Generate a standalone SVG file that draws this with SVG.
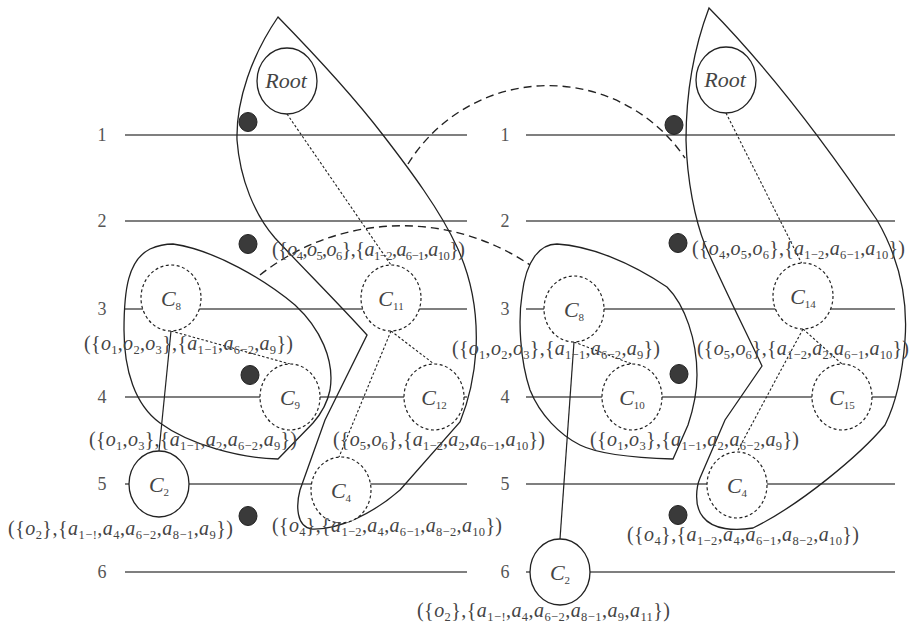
<svg xmlns="http://www.w3.org/2000/svg" width="910" height="628" viewBox="0 0 910 628">
<style>
.bg{fill:#fff}
.lv{stroke:#555;stroke-width:1.5;fill:none}
.num{font-family:"Liberation Serif",serif;font-size:18px;fill:#555;text-anchor:middle}
.hull{fill:none;stroke:#222;stroke-width:1.3}
.arc{fill:none;stroke:#222;stroke-width:1.4;stroke-dasharray:8 5}
.dot{fill:none;stroke:#222;stroke-width:1.1;stroke-dasharray:2.5 2}
.sol{fill:none;stroke:#222;stroke-width:1.2}
.nd{fill:#fff;stroke:#222;stroke-width:1.3}
.nds{fill:#fff;stroke:#222;stroke-width:1.2;stroke-dasharray:3 2.5}
.blk{fill:#3a3a3a;stroke:#222;stroke-width:1}
.n{font-family:"Liberation Serif",serif;font-size:22px;font-style:italic;fill:#444;text-anchor:middle}
.ns{font-size:11px;font-style:normal}
.t{font-family:"Liberation Serif",serif;font-size:20px;fill:#444}
.i{font-style:italic}
.s{font-size:12.5px}
</style>
<rect class="bg" x="0" y="0" width="910" height="628"/>
<g id="levels">
<line class="lv" x1="125" y1="135" x2="467" y2="135"/>
<line class="lv" x1="125" y1="221" x2="467" y2="221"/>
<line class="lv" x1="125" y1="309" x2="467" y2="309"/>
<line class="lv" x1="125" y1="397" x2="467" y2="397"/>
<line class="lv" x1="125" y1="484" x2="467" y2="484"/>
<line class="lv" x1="125" y1="572" x2="467" y2="572"/>
<line class="lv" x1="526" y1="135" x2="895" y2="135"/>
<line class="lv" x1="526" y1="221" x2="895" y2="221"/>
<line class="lv" x1="526" y1="309" x2="895" y2="309"/>
<line class="lv" x1="526" y1="397" x2="895" y2="397"/>
<line class="lv" x1="526" y1="484" x2="895" y2="484"/>
<line class="lv" x1="526" y1="572" x2="895" y2="572"/>
<text class="num" x="102" y="141">1</text>
<text class="num" x="102" y="227">2</text>
<text class="num" x="102" y="315">3</text>
<text class="num" x="102" y="403">4</text>
<text class="num" x="102" y="490">5</text>
<text class="num" x="102" y="578">6</text>
<text class="num" x="505" y="141">1</text>
<text class="num" x="505" y="227">2</text>
<text class="num" x="505" y="315">3</text>
<text class="num" x="505" y="403">4</text>
<text class="num" x="505" y="490">5</text>
<text class="num" x="505" y="578">6</text>
</g>
<g id="regions">
<path class="hull" d="M278,17 C320,60 360,105 383,135 C410,170 440,210 457,247 C470,275 478,310 476,350 C474,380 469,400 460,422 L400,490 C375,512 340,530 312,529 C296,527 296,505 300,490 L325,420 L367,335 C340,305 300,265 275,238 C255,215 240,180 237,140 C236,100 252,55 278,17 Z"/>
<path class="hull" d="M173,244 C215,250 265,280 295,305 C320,328 335,360 330,390 C327,405 320,415 313,423 L278,459 C240,458 190,445 160,423 C135,405 124,370 124,330 C124,290 128,260 150,249 C157,246 165,244 173,244 Z"/>
<path class="hull" d="M709,8 C770,70 830,150 877,220 C900,260 908,300 905,340 C902,380 895,405 885,425 C860,455 800,505 753,528 C735,531 713,530 703,517 C693,505 697,485 700,478 L725,420 L762,366 C745,330 720,280 705,245 C695,220 687,180 686,140 C686,90 695,45 709,8 Z"/>
<path class="hull" d="M557,244 C590,246 630,262 667,287 C685,305 697,340 697,375 C697,395 693,410 688,425 L673,459 C640,458 600,455 580,445 C560,435 540,415 530,390 C520,360 518,320 522,295 C526,260 540,244 557,244 Z"/>
</g>
<g id="connectors">
<path class="arc" d="M408,164 A165,165 0 0 1 685,158"/>
<path class="arc" d="M260,275 A229,229 0 0 1 530,265"/>
<line class="dot" x1="287" y1="114" x2="391" y2="265"/>
<line class="dot" x1="171" y1="331" x2="290" y2="364"/>
<line class="sol" x1="171" y1="331" x2="159" y2="451"/>
<line class="dot" x1="391" y1="331" x2="434" y2="364"/>
<line class="dot" x1="391" y1="331" x2="339" y2="457"/>
<line class="dot" x1="726" y1="113" x2="802" y2="264"/>
<line class="dot" x1="574" y1="342" x2="632" y2="364"/>
<line class="sol" x1="574" y1="342" x2="560" y2="539"/>
<line class="dot" x1="803" y1="329" x2="842" y2="364"/>
<line class="dot" x1="803" y1="329" x2="737" y2="452"/>
</g>
<g id="L-Root"><ellipse class="nd" cx="287" cy="81" rx="30" ry="33"/><text class="n" x="286" y="88" font-size="20">Root</text></g>
<g id="L-C8"><ellipse class="nds" cx="171" cy="298" rx="30" ry="33"/><text class="n" x="171" y="306">C<tspan class="ns" dy="4">8</tspan></text></g>
<g id="L-C11"><ellipse class="nds" cx="391" cy="298" rx="30" ry="33"/><text class="n" x="391" y="306">C<tspan class="ns" dy="4">11</tspan></text></g>
<g id="L-C9"><ellipse class="nds" cx="290" cy="397" rx="30" ry="33"/><text class="n" x="290" y="405">C<tspan class="ns" dy="4">9</tspan></text></g>
<g id="L-C12"><ellipse class="nds" cx="434" cy="397" rx="30" ry="33"/><text class="n" x="434" y="405">C<tspan class="ns" dy="4">12</tspan></text></g>
<g id="L-C2"><ellipse class="nd" cx="159" cy="484" rx="30" ry="33"/><text class="n" x="159" y="492">C<tspan class="ns" dy="4">2</tspan></text></g>
<g id="L-C4"><ellipse class="nds" cx="341" cy="490" rx="30" ry="33"/><text class="n" x="341" y="498">C<tspan class="ns" dy="4">4</tspan></text></g>
<g id="R-Root"><ellipse class="nd" cx="726" cy="80" rx="30" ry="33"/><text class="n" x="725" y="87" font-size="20">Root</text></g>
<g id="R-C8"><ellipse class="nds" cx="574" cy="309" rx="30" ry="33"/><text class="n" x="574" y="317">C<tspan class="ns" dy="4">8</tspan></text></g>
<g id="R-C14"><ellipse class="nds" cx="803" cy="296" rx="30" ry="33"/><text class="n" x="803" y="304">C<tspan class="ns" dy="4">14</tspan></text></g>
<g id="R-C10"><ellipse class="nds" cx="632" cy="397" rx="30" ry="33"/><text class="n" x="632" y="405">C<tspan class="ns" dy="4">10</tspan></text></g>
<g id="R-C15"><ellipse class="nds" cx="842" cy="397" rx="30" ry="33"/><text class="n" x="842" y="405">C<tspan class="ns" dy="4">15</tspan></text></g>
<g id="R-C4"><ellipse class="nds" cx="737" cy="485" rx="30" ry="33"/><text class="n" x="737" y="493">C<tspan class="ns" dy="4">4</tspan></text></g>
<g id="R-C2"><ellipse class="nd" cx="560" cy="572" rx="30" ry="33"/><text class="n" x="560" y="580">C<tspan class="ns" dy="4">2</tspan></text></g>
<g id="markers">
<ellipse class="blk" cx="248" cy="122" rx="9" ry="9.5"/>
<ellipse class="blk" cx="248" cy="244" rx="9" ry="9.5"/>
<ellipse class="blk" cx="250" cy="375" rx="9" ry="9.5"/>
<ellipse class="blk" cx="248" cy="516" rx="9" ry="9.5"/>
<ellipse class="blk" cx="674" cy="125" rx="9" ry="9.5"/>
<ellipse class="blk" cx="678" cy="243" rx="9" ry="9.5"/>
<ellipse class="blk" cx="679" cy="374" rx="9" ry="9.5"/>
<ellipse class="blk" cx="678" cy="515" rx="9" ry="9.5"/>
</g>
<g id="labels">
<text class="t" x="272" y="256" textLength="193" lengthAdjust="spacing">({<tspan class="i">o</tspan><tspan class="s" dy="4">4</tspan><tspan dy="-4">,</tspan><tspan class="i">o</tspan><tspan class="s" dy="4">5</tspan><tspan dy="-4">,</tspan><tspan class="i">o</tspan><tspan class="s" dy="4">6</tspan><tspan dy="-4">},{</tspan><tspan class="i">a</tspan><tspan class="s" dy="4">1−2</tspan><tspan dy="-4">,</tspan><tspan class="i">a</tspan><tspan class="s" dy="4">6−1</tspan><tspan dy="-4">,</tspan><tspan class="i">a</tspan><tspan class="s" dy="4">10</tspan><tspan dy="-4">})</tspan></text>
<text class="t" x="84" y="350" textLength="209" lengthAdjust="spacing">({<tspan class="i">o</tspan><tspan class="s" dy="4">1</tspan><tspan dy="-4">,</tspan><tspan class="i">o</tspan><tspan class="s" dy="4">2</tspan><tspan dy="-4">,</tspan><tspan class="i">o</tspan><tspan class="s" dy="4">3</tspan><tspan dy="-4">},{</tspan><tspan class="i">a</tspan><tspan class="s" dy="4">1−1</tspan><tspan dy="-4">,</tspan><tspan class="i">a</tspan><tspan class="s" dy="4">6−2</tspan><tspan dy="-4">,</tspan><tspan class="i">a</tspan><tspan class="s" dy="4">9</tspan><tspan dy="-4">})</tspan></text>
<text class="t" x="89" y="446" textLength="208" lengthAdjust="spacing">({<tspan class="i">o</tspan><tspan class="s" dy="4">1</tspan><tspan dy="-4">,</tspan><tspan class="i">o</tspan><tspan class="s" dy="4">3</tspan><tspan dy="-4">},{</tspan><tspan class="i">a</tspan><tspan class="s" dy="4">1−1</tspan><tspan dy="-4">,</tspan><tspan class="i">a</tspan><tspan class="s" dy="4">2</tspan><tspan dy="-4">,</tspan><tspan class="i">a</tspan><tspan class="s" dy="4">6−2</tspan><tspan dy="-4">,</tspan><tspan class="i">a</tspan><tspan class="s" dy="4">9</tspan><tspan dy="-4">})</tspan></text>
<text class="t" x="333" y="446" textLength="212" lengthAdjust="spacing">({<tspan class="i">o</tspan><tspan class="s" dy="4">5</tspan><tspan dy="-4">,</tspan><tspan class="i">o</tspan><tspan class="s" dy="4">6</tspan><tspan dy="-4">},{</tspan><tspan class="i">a</tspan><tspan class="s" dy="4">1−2</tspan><tspan dy="-4">,</tspan><tspan class="i">a</tspan><tspan class="s" dy="4">2</tspan><tspan dy="-4">,</tspan><tspan class="i">a</tspan><tspan class="s" dy="4">6−1</tspan><tspan dy="-4">,</tspan><tspan class="i">a</tspan><tspan class="s" dy="4">10</tspan><tspan dy="-4">})</tspan></text>
<text class="t" x="8" y="535" textLength="225" lengthAdjust="spacing">({<tspan class="i">o</tspan><tspan class="s" dy="4">2</tspan><tspan dy="-4">},{</tspan><tspan class="i">a</tspan><tspan class="s" dy="4">1−!</tspan><tspan dy="-4">,</tspan><tspan class="i">a</tspan><tspan class="s" dy="4">4</tspan><tspan dy="-4">,</tspan><tspan class="i">a</tspan><tspan class="s" dy="4">6−2</tspan><tspan dy="-4">,</tspan><tspan class="i">a</tspan><tspan class="s" dy="4">8−1</tspan><tspan dy="-4">,</tspan><tspan class="i">a</tspan><tspan class="s" dy="4">9</tspan><tspan dy="-4">})</tspan></text>
<text class="t" x="272" y="532" textLength="230" lengthAdjust="spacing">({<tspan class="i">o</tspan><tspan class="s" dy="4">4</tspan><tspan dy="-4">},{</tspan><tspan class="i">a</tspan><tspan class="s" dy="4">1−2</tspan><tspan dy="-4">,</tspan><tspan class="i">a</tspan><tspan class="s" dy="4">4</tspan><tspan dy="-4">,</tspan><tspan class="i">a</tspan><tspan class="s" dy="4">6−1</tspan><tspan dy="-4">,</tspan><tspan class="i">a</tspan><tspan class="s" dy="4">8−2</tspan><tspan dy="-4">,</tspan><tspan class="i">a</tspan><tspan class="s" dy="4">10</tspan><tspan dy="-4">})</tspan></text>
<text class="t" x="692" y="255" textLength="213" lengthAdjust="spacing">({<tspan class="i">o</tspan><tspan class="s" dy="4">4</tspan><tspan dy="-4">,</tspan><tspan class="i">o</tspan><tspan class="s" dy="4">5</tspan><tspan dy="-4">,</tspan><tspan class="i">o</tspan><tspan class="s" dy="4">6</tspan><tspan dy="-4">},{</tspan><tspan class="i">a</tspan><tspan class="s" dy="4">1−2</tspan><tspan dy="-4">,</tspan><tspan class="i">a</tspan><tspan class="s" dy="4">6−1</tspan><tspan dy="-4">,</tspan><tspan class="i">a</tspan><tspan class="s" dy="4">10</tspan><tspan dy="-4">})</tspan></text>
<text class="t" x="452" y="355" textLength="208" lengthAdjust="spacing">({<tspan class="i">o</tspan><tspan class="s" dy="4">1</tspan><tspan dy="-4">,</tspan><tspan class="i">o</tspan><tspan class="s" dy="4">2</tspan><tspan dy="-4">,</tspan><tspan class="i">o</tspan><tspan class="s" dy="4">3</tspan><tspan dy="-4">},{</tspan><tspan class="i">a</tspan><tspan class="s" dy="4">1−1</tspan><tspan dy="-4">,</tspan><tspan class="i">a</tspan><tspan class="s" dy="4">6−2</tspan><tspan dy="-4">,</tspan><tspan class="i">a</tspan><tspan class="s" dy="4">9</tspan><tspan dy="-4">})</tspan></text>
<text class="t" x="697" y="355" textLength="212" lengthAdjust="spacing">({<tspan class="i">o</tspan><tspan class="s" dy="4">5</tspan><tspan dy="-4">,</tspan><tspan class="i">o</tspan><tspan class="s" dy="4">6</tspan><tspan dy="-4">},{</tspan><tspan class="i">a</tspan><tspan class="s" dy="4">1−2</tspan><tspan dy="-4">,</tspan><tspan class="i">a</tspan><tspan class="s" dy="4">2</tspan><tspan dy="-4">,</tspan><tspan class="i">a</tspan><tspan class="s" dy="4">6−1</tspan><tspan dy="-4">,</tspan><tspan class="i">a</tspan><tspan class="s" dy="4">10</tspan><tspan dy="-4">})</tspan></text>
<text class="t" x="590" y="446" textLength="209" lengthAdjust="spacing">({<tspan class="i">o</tspan><tspan class="s" dy="4">1</tspan><tspan dy="-4">,</tspan><tspan class="i">o</tspan><tspan class="s" dy="4">3</tspan><tspan dy="-4">},{</tspan><tspan class="i">a</tspan><tspan class="s" dy="4">1−1</tspan><tspan dy="-4">,</tspan><tspan class="i">a</tspan><tspan class="s" dy="4">2</tspan><tspan dy="-4">,</tspan><tspan class="i">a</tspan><tspan class="s" dy="4">6−2</tspan><tspan dy="-4">,</tspan><tspan class="i">a</tspan><tspan class="s" dy="4">9</tspan><tspan dy="-4">})</tspan></text>
<text class="t" x="627" y="541" textLength="232" lengthAdjust="spacing">({<tspan class="i">o</tspan><tspan class="s" dy="4">4</tspan><tspan dy="-4">},{</tspan><tspan class="i">a</tspan><tspan class="s" dy="4">1−2</tspan><tspan dy="-4">,</tspan><tspan class="i">a</tspan><tspan class="s" dy="4">4</tspan><tspan dy="-4">,</tspan><tspan class="i">a</tspan><tspan class="s" dy="4">6−1</tspan><tspan dy="-4">,</tspan><tspan class="i">a</tspan><tspan class="s" dy="4">8−2</tspan><tspan dy="-4">,</tspan><tspan class="i">a</tspan><tspan class="s" dy="4">10</tspan><tspan dy="-4">})</tspan></text>
<text class="t" x="417" y="617" textLength="253" lengthAdjust="spacing">({<tspan class="i">o</tspan><tspan class="s" dy="4">2</tspan><tspan dy="-4">},{</tspan><tspan class="i">a</tspan><tspan class="s" dy="4">1−!</tspan><tspan dy="-4">,</tspan><tspan class="i">a</tspan><tspan class="s" dy="4">4</tspan><tspan dy="-4">,</tspan><tspan class="i">a</tspan><tspan class="s" dy="4">6−2</tspan><tspan dy="-4">,</tspan><tspan class="i">a</tspan><tspan class="s" dy="4">8−1</tspan><tspan dy="-4">,</tspan><tspan class="i">a</tspan><tspan class="s" dy="4">9</tspan><tspan dy="-4">,</tspan><tspan class="i">a</tspan><tspan class="s" dy="4">11</tspan><tspan dy="-4">})</tspan></text>
</g>
</svg>
